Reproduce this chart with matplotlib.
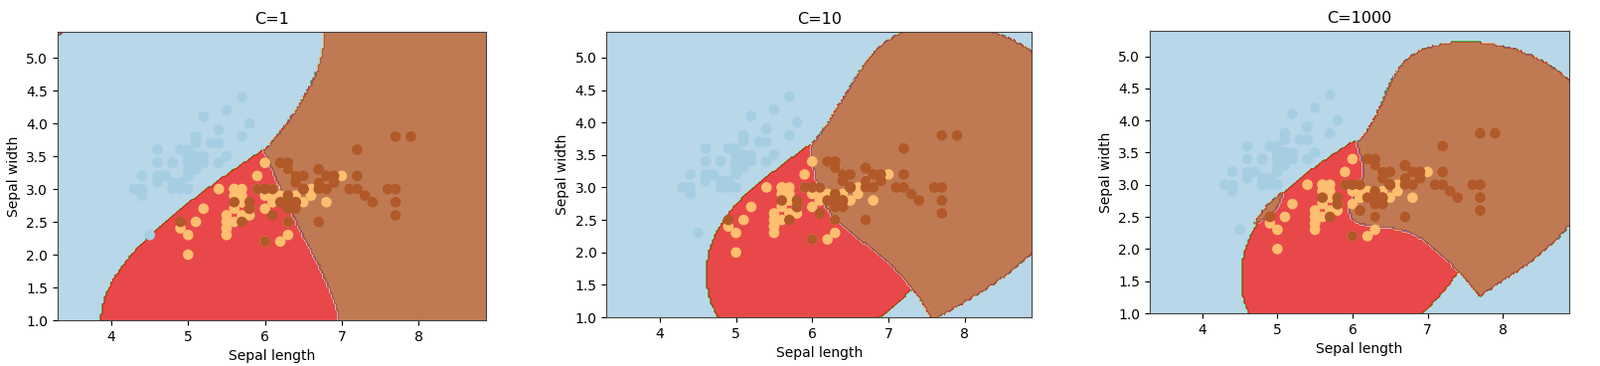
import numpy as np
import matplotlib
matplotlib.use("Agg")
import matplotlib.pyplot as plt

# iris: sepal length / sepal width, species 0=setosa 1=versicolor 2=virginica
sepal_length = [
    5.1, 4.9, 4.7, 4.6, 5.0, 5.4, 4.6, 5.0, 4.4, 4.9, 5.4, 4.8, 4.8, 4.3, 5.8, 5.7, 5.4, 5.1, 5.7, 5.1,
    5.4, 5.1, 4.6, 5.1, 4.8, 5.0, 5.0, 5.2, 5.2, 4.7, 4.8, 5.4, 5.2, 5.5, 4.9, 5.0, 5.5, 4.9, 4.4, 5.1,
    5.0, 4.5, 4.4, 5.0, 5.1, 4.8, 5.1, 4.6, 5.3, 5.0,
    7.0, 6.4, 6.9, 5.5, 6.5, 5.7, 6.3, 4.9, 6.6, 5.2, 5.0, 5.9, 6.0, 6.1, 5.6, 6.7, 5.6, 5.8, 6.2, 5.6,
    5.9, 6.1, 6.3, 6.1, 6.4, 6.6, 6.8, 6.7, 6.0, 5.7, 5.5, 5.5, 5.8, 6.0, 5.4, 6.0, 6.7, 6.3, 5.6, 5.5,
    5.5, 6.1, 5.8, 5.0, 5.6, 5.7, 5.7, 6.2, 5.1, 5.7,
    6.3, 5.8, 7.1, 6.3, 6.5, 7.6, 4.9, 7.3, 6.7, 7.2, 6.5, 6.4, 6.8, 5.7, 5.8, 6.4, 6.5, 7.7, 7.7, 6.0,
    6.9, 5.6, 7.7, 6.3, 6.7, 7.2, 6.2, 6.1, 6.4, 7.2, 7.4, 7.9, 6.4, 6.3, 6.1, 7.7, 6.3, 6.4, 6.0, 6.9,
    6.7, 6.9, 5.8, 6.8, 6.7, 6.7, 6.3, 6.5, 6.2, 5.9,
]
sepal_width = [
    3.5, 3.0, 3.2, 3.1, 3.6, 3.9, 3.4, 3.4, 2.9, 3.1, 3.7, 3.4, 3.0, 3.0, 4.0, 4.4, 3.9, 3.5, 3.8, 3.8,
    3.4, 3.7, 3.6, 3.3, 3.4, 3.0, 3.4, 3.5, 3.4, 3.2, 3.1, 3.4, 4.1, 4.2, 3.1, 3.2, 3.5, 3.6, 3.0, 3.4,
    3.5, 2.3, 3.2, 3.5, 3.8, 3.0, 3.8, 3.2, 3.7, 3.3,
    3.2, 3.2, 3.1, 2.3, 2.8, 2.8, 3.3, 2.4, 2.9, 2.7, 2.0, 3.0, 2.2, 2.9, 2.9, 3.1, 3.0, 2.7, 2.2, 2.5,
    3.2, 2.8, 2.5, 2.8, 2.9, 3.0, 2.8, 3.0, 2.9, 2.6, 2.4, 2.4, 2.7, 2.7, 3.0, 3.4, 3.1, 2.3, 3.0, 2.5,
    2.6, 3.0, 2.6, 2.3, 2.7, 3.0, 2.9, 2.9, 2.5, 2.8,
    3.3, 2.7, 3.0, 2.9, 3.0, 3.0, 2.5, 2.9, 2.5, 3.6, 3.2, 2.7, 3.0, 2.5, 2.8, 3.2, 3.0, 3.8, 2.6, 2.2,
    3.2, 2.8, 2.8, 2.7, 3.3, 3.2, 2.8, 3.0, 2.8, 3.0, 2.8, 3.8, 2.8, 2.8, 2.6, 3.0, 3.4, 3.1, 3.0, 3.1,
    3.1, 3.1, 2.7, 3.2, 3.3, 3.0, 2.5, 3.0, 3.4, 3.0,
]
species = [0] * 50 + [1] * 50 + [2] * 50

C_values = [1, 10, 1000]
gamma = 0.5  # old sklearn 'auto' = 1 / n_features


def rbf(A, B):
    d = ((A[:, None, :] - B[None, :, :]) ** 2).sum(-1)
    return np.exp(-gamma * d)


def fit_binary(X, t, C, tol=1e-3, max_iter=500000):
    # plain SMO on the SVC dual (libsvm style, first order working set)
    n = len(t)
    K = rbf(X, X)
    Q = t[:, None] * t[None, :] * K
    a = np.zeros(n)
    G = -np.ones(n)
    for _ in range(max_iter):
        up = ((t > 0) & (a < C)) | ((t < 0) & (a > 0))
        low = ((t > 0) & (a > 0)) | ((t < 0) & (a < C))
        v = -t * G
        iu = np.where(up)[0]
        il = np.where(low)[0]
        i = iu[np.argmax(v[iu])]
        j = il[np.argmin(v[il])]
        if v[i] - v[j] < tol:
            break
        eta = max(K[i, i] + K[j, j] - 2 * K[i, j], 1e-12)
        step = (v[i] - v[j]) / eta
        lim_i = C - a[i] if t[i] > 0 else a[i]
        lim_j = a[j] if t[j] > 0 else C - a[j]
        step = min(step, lim_i, lim_j)
        a[i] += t[i] * step
        a[j] -= t[j] * step
        G += Q[:, i] * (t[i] * step) - Q[:, j] * (t[j] * step)
    free = (a > 1e-8) & (a < C - 1e-8)
    if free.any():
        rho = np.mean(t[free] * G[free])
    else:
        v = -t * G
        rho = -(v[up].max() + v[low].min()) / 2
    return a * t, rho


def predict(X, y, C, P):
    votes = np.zeros((len(P), 3))
    for p in range(3):
        for q in range(p + 1, 3):
            m = (y == p) | (y == q)
            Xs = X[m]
            t = np.where(y[m] == p, 1.0, -1.0)
            coef, rho = fit_binary(Xs, t, C)
            sv = np.abs(coef) > 1e-10
            f = rbf(P, Xs[sv]) @ coef[sv] - rho
            votes[:, p] += f > 0
            votes[:, q] += f <= 0
    return np.argmax(votes, axis=1)


X = np.c_[sepal_length, sepal_width]
y = np.array(species)

x_min, x_max = X[:, 0].min() - 1, X[:, 0].max() + 1
y_min, y_max = X[:, 1].min() - 1, X[:, 1].max() + 1
h = (x_max / x_min) / 100
xx, yy = np.meshgrid(np.arange(x_min, x_max, h), np.arange(y_min, y_max, h))

fig = plt.figure(figsize=(16.1, 3.68), dpi=100)
boxes = [
    [0.036, 0.125, 0.268, 0.788],
    [0.379, 0.133, 0.266, 0.780],
    [0.7186, 0.144, 0.262, 0.772],
]

for C, box in zip(C_values, boxes):
    ax = fig.add_axes(box)
    Z = predict(X, y, C, np.c_[xx.ravel(), yy.ravel()]).reshape(xx.shape)
    ax.contourf(xx, yy, Z, cmap=plt.cm.Paired, alpha=0.8)
    ax.scatter(X[:, 0], X[:, 1], c=y, cmap=plt.cm.Paired, s=44)
    ax.set_xlabel('Sepal length', fontsize=10)
    ax.set_ylabel('Sepal width', fontsize=10)
    ax.set_xlim(xx.min(), xx.max())
    ax.set_title('C=' + str(C), fontsize=11.5)
    ax.tick_params(labelsize=10)
    for s in ax.spines.values():
        s.set_edgecolor('#444444')

fig.savefig('out.png', dpi=100)
